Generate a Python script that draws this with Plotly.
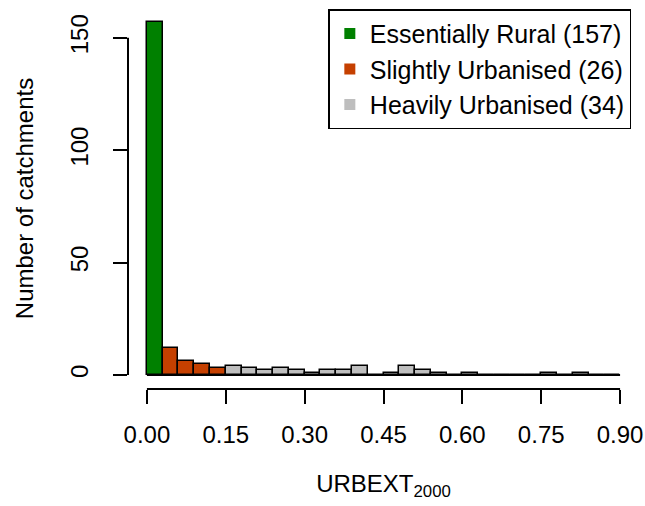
import plotly.graph_objects as go

# ---- data ----
bin_edges = [round(i * 0.03, 2) for i in range(31)]  # 0.00 .. 0.90
rural_counts = [157]
slight_counts = [12, 6, 5, 3]
heavy_counts = [4, 3, 2, 3, 2, 1, 2, 2, 4, 0, 1, 4, 2, 1, 0, 1, 0, 0, 0, 0, 1, 0, 1, 0, 0]
group_names = ["Essentially Rural (157)", "Slightly Urbanised (26)", "Heavily Urbanised (34)"]
group_colors = ["#008000", "#C54000", "#BEBEBE"]
x_ticks = [0.00, 0.15, 0.30, 0.45, 0.60, 0.75, 0.90]
y_ticks = [0, 50, 100, 150]

centers = [(bin_edges[i] + bin_edges[i + 1]) / 2 for i in range(len(bin_edges) - 1)]
bw = bin_edges[1] - bin_edges[0]

n_r, n_s = len(rural_counts), len(slight_counts)
groups = [
    (centers[:n_r], rural_counts),
    (centers[n_r:n_r + n_s], slight_counts),
    (centers[n_r + n_s:], heavy_counts),
]

FONT = "Liberation Sans, Arial, sans-serif"
fig = go.Figure()
for (xs, ys), name, col in zip(groups, group_names, group_colors):
    fig.add_trace(go.Bar(
        x=xs, y=ys, width=bw, name=name, showlegend=False,
        marker=dict(color=col, line=dict(color="black", width=1.5)),
    ))
# legend entries (filled squares, no border)
for name, col in zip(group_names, group_colors):
    fig.add_trace(go.Scatter(
        x=[None], y=[None], mode="markers", name=name,
        marker=dict(symbol="square", size=11, color=col),
    ))

ymax = max(rural_counts + slight_counts + heavy_counts)
pad_x = 0.04 * (bin_edges[-1] - bin_edges[0])
pad_y = 0.04 * ymax

fig.update_layout(
    width=645, height=506,
    margin=dict(l=128, r=6, t=8, b=117),
    plot_bgcolor="white", paper_bgcolor="white",
    font=dict(family=FONT, size=24, color="black"),
    bargap=0,
    xaxis=dict(
        range=[bin_edges[0] - pad_x, bin_edges[-1] + pad_x],
        tickvals=x_ticks, ticktext=[f"{v:.2f}" for v in x_ticks],
        ticks="outside", ticklen=14, tickwidth=2, tickcolor="black",
        showline=False, showgrid=False, zeroline=False,
        ticklabelstandoff=10, automargin=False,
        title=dict(text="URBEXT<sub>2000</sub>", standoff=28, font=dict(size=24)),
    ),
    yaxis=dict(
        range=[-pad_y, ymax + pad_y],
        tickvals=y_ticks, tickangle=-90,
        ticks="outside", ticklen=14, tickwidth=2, tickcolor="black",
        showline=False, showgrid=False, zeroline=False,
        ticklabelstandoff=15, automargin=False,
        title=dict(text="Number of catchments", standoff=26, font=dict(size=24)),
    ),
    legend=dict(
        x=0.985, y=0.997, xanchor="right", yanchor="top",
        bgcolor="white", bordercolor="black", borderwidth=1.5,
        font=dict(size=25), itemwidth=30, tracegroupgap=0,
    ),
    shapes=[
        # R-style axis lines spanning the tick range only
        dict(type="line", xref="x", yref="paper", x0=x_ticks[0], x1=x_ticks[-1], y0=0, y1=0,
             line=dict(color="black", width=2)),
        dict(type="line", xref="paper", yref="y", x0=0, x1=0, y0=y_ticks[0], y1=y_ticks[-1],
             line=dict(color="black", width=2)),
        # baseline of the histogram (zero-count bins)
        dict(type="line", xref="x", yref="y", x0=bin_edges[0], x1=bin_edges[-1], y0=0, y1=0,
             line=dict(color="black", width=2), layer="above"),
    ],
)

fig.write_html("out.html")
